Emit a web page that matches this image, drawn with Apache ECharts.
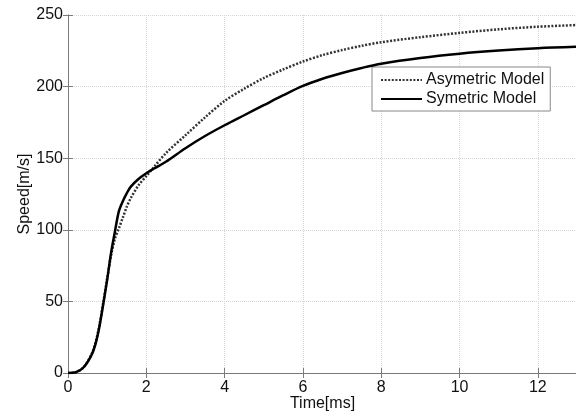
<!DOCTYPE html>
<html>
<head>
<meta charset="utf-8">
<script src="https://cdn.jsdelivr.net/npm/echarts@6/dist/echarts.min.js"></script>
<style>
  html, body { margin: 0; padding: 0; background: #fff; }
  #chart { width: 576px; height: 412px; }
</style>
</head>
<body>
<div id="chart"></div>
<script>
// time [ms]
const times = [0, 0.2, 0.4, 0.6, 0.7, 0.8, 0.9, 1.0, 1.1, 1.2, 1.3, 1.4, 1.5, 1.6, 1.8, 2.0, 2.2, 2.5, 3, 3.5, 4, 4.5, 5, 5.5, 6, 6.5, 7, 7.5, 8, 9, 10, 11, 12, 13];
// speed [m/s]
const asymetric = [0, 0.5, 4, 13, 21, 33, 49, 66, 82, 94, 101, 108.5, 116, 122, 131, 137.5, 144, 153.5, 166, 178.5, 190, 198.5, 206, 212, 217.5, 222, 225.5, 228.5, 231, 234.5, 237.5, 240, 241.8, 243];
const symetric = [0, 0.5, 4, 12.5, 20, 32, 48, 65, 84, 99, 113, 120, 125.5, 130, 135.5, 139.5, 142.8, 147.5, 157, 165.5, 173, 180, 187, 194, 200.5, 205.5, 209.5, 213, 216, 220, 223, 225.2, 226.8, 227.8];
const xTicks = [0, 2, 4, 6, 8, 10, 12];
const yTicks = [0, 50, 100, 150, 200, 250];

const FONT = '"Liberation Sans", Arial, sans-serif';
const axisGrey = '#7a7a7a';
const gridGrey = '#d6d6d6';

const chart = echarts.init(document.getElementById('chart'), null, { renderer: 'canvas' });

const pairs = (ys) => times.map((t, i) => [t, ys[i]]);

const xBase = {
  type: 'value', min: 0, max: 13, interval: 2,
  axisLine: { show: true, lineStyle: { color: axisGrey, width: 1 } },
  axisTick: { show: true, inside: true, length: 5, lineStyle: { color: axisGrey } },
  splitLine: { show: false },
};
const yBase = {
  type: 'value', min: 0, max: 250, interval: 50,
  axisLine: { show: true, lineStyle: { color: axisGrey, width: 1 } },
  axisTick: { show: true, inside: true, length: 5, lineStyle: { color: axisGrey } },
  splitLine: { show: false },
};

chart.setOption({
  animation: false,
  backgroundColor: '#fff',
  grid: { left: 68, right: -1, top: 15, bottom: 39, outerBoundsMode: 'none' },
  legend: {
    left: 372, top: 67,
    orient: 'vertical',
    backgroundColor: '#fff',
    borderColor: '#888',
    borderWidth: 1,
    borderRadius: 0,
    padding: [5, 6, 4, 8],
    itemWidth: 41, itemHeight: 14, itemGap: 3,
    itemStyle: { opacity: 0 },
    textStyle: { fontFamily: FONT, fontSize: 16, color: '#111', lineHeight: 16, padding: [0, 0, 0, -1] },
    data: ['Asymetric Model', 'Symetric Model'],
  },
  xAxis: [
    Object.assign({}, xBase, {
      position: 'bottom',
      name: 'Time[ms]', nameLocation: 'middle', nameGap: 23, nameMoveOverlap: false,
      nameTextStyle: { fontFamily: FONT, fontSize: 16, color: '#111' },
      axisLabel: {
        fontFamily: FONT, fontSize: 16, color: '#111', margin: 7,
        formatter: (v) => (xTicks.includes(v) ? String(v) : ''),
      },
      splitLine: { show: true, lineStyle: { color: gridGrey, type: 'dotted', width: 1 } },
    }),
    Object.assign({}, xBase, { position: 'top', axisLabel: { show: false } }),
  ],
  yAxis: [
    Object.assign({}, yBase, {
      position: 'left',
      name: 'Speed[m/s]', nameLocation: 'middle', nameGap: 35, nameRotate: 90, nameMoveOverlap: false,
      nameTextStyle: { fontFamily: FONT, fontSize: 16, color: '#111' },
      axisLabel: {
        fontFamily: FONT, fontSize: 16, color: '#111', margin: 5,
        formatter: (v) => (yTicks.includes(v) ? String(v) : ''),
      },
      splitLine: { show: true, lineStyle: { color: gridGrey, type: 'dotted', width: 1 } },
    }),
    Object.assign({}, yBase, { position: 'right', axisLabel: { show: false } }),
  ],
  series: [
    {
      name: 'Asymetric Model', type: 'line', data: pairs(asymetric),
      smooth: 0.3, symbol: 'none', showSymbol: false,
      lineStyle: { color: '#333', width: 2.5, type: [2, 1.6] },
      itemStyle: { color: '#333' },
      z: 3,
    },
    {
      name: 'Symetric Model', type: 'line', data: pairs(symetric),
      smooth: 0.3, symbol: 'none', showSymbol: false,
      lineStyle: { color: '#000', width: 2.5 },
      itemStyle: { color: '#000' },
      z: 4,
    },
  ],
});
</script>
</body>
</html>
